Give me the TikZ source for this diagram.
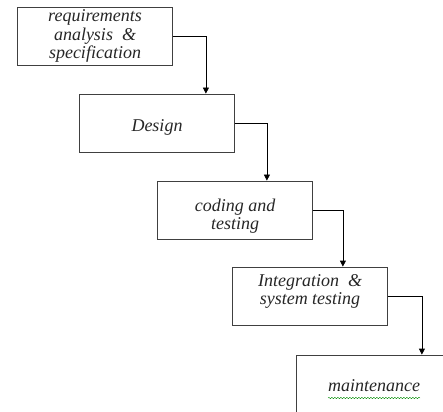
\documentclass[tikz,border=0pt]{standalone}
\usepackage{fontspec}
\setmainfont{Liberation Serif}
\usetikzlibrary{arrows.meta,decorations.pathmorphing}

\begin{document}
\begin{tikzpicture}[x=1pt, y=-1pt,
	phase/.style={draw=black!75, line width=0.8pt, minimum width=155pt, minimum height=58pt, inner sep=2pt, align=center, text=black!85, font=\fontsize{18}{18.5}\selectfont\itshape},
	>={Triangle[length=6pt, width=6pt]}]
	\clip (0,0) rectangle (443,411);
	\node[phase] (req) at (95,36) {requirements\\analysis \ \&\\specification};
	\node[phase] (des) at (157,123) {\raisebox{-4pt}[\height][\depth]{Design}};
	\node[phase] (cod) at (235,210) {\raisebox{-7pt}[\height][\depth]{\begin{tabular}{@{}c@{}}coding and\\testing\end{tabular}}};
	\node[phase] (int) at (310,296) {\raisebox{4pt}[\height][\depth]{\begin{tabular}{@{}c@{}}Integration \ \&\\system testing\end{tabular}}};
	\node[phase] (mnt) at (374,384) {\raisebox{-2pt}[\height][\depth]{maintenance}};
	\draw[->, line width=0.8pt] (req.east) -| ([xshift=-29pt]des.north east);
	\draw[->, line width=0.8pt] (des.east) -| ([xshift=-46pt]cod.north east);
	\draw[->, line width=0.8pt] (cod.east) -| ([xshift=-45pt]int.north east);
	\draw[->, line width=0.8pt] (int.east) -| ([xshift=-30pt]mnt.north east);
	\draw[green!55!black, line width=0.4pt, decorate, decoration={snake, amplitude=0.7pt, segment length=3pt}] (328,398) -- (420,398);
\end{tikzpicture}
\end{document}
